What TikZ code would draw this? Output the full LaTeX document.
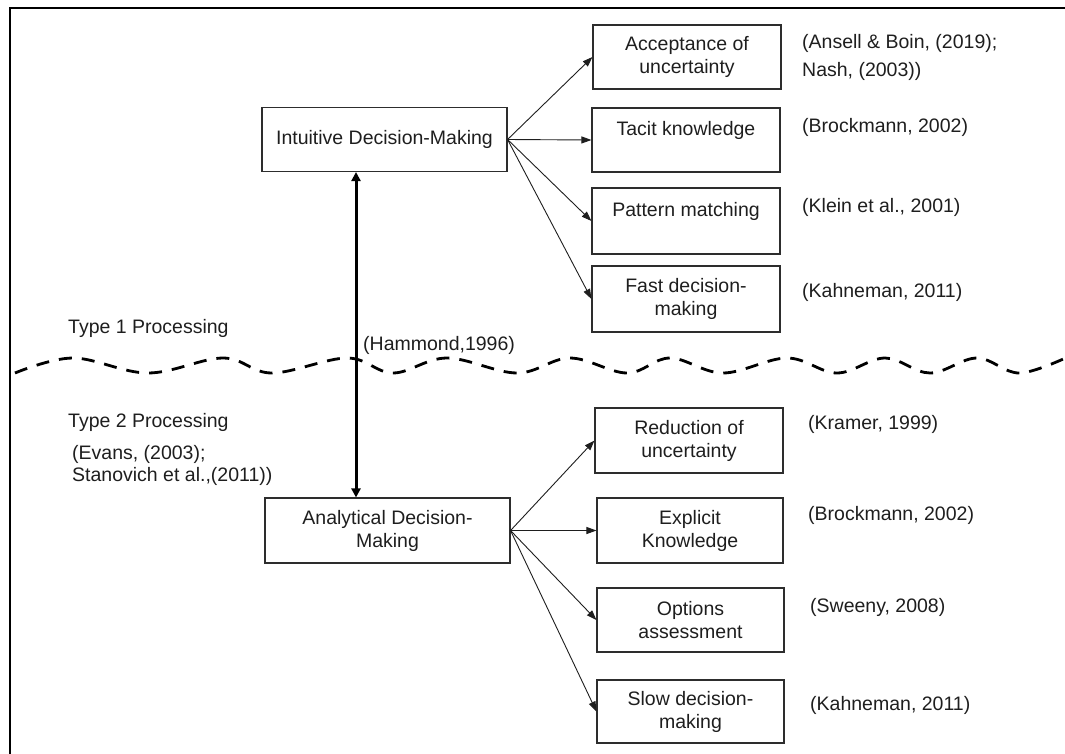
\documentclass[tikz,border=0pt]{standalone}
\usepackage{fontspec}
\setmainfont{Liberation Sans}
\usetikzlibrary{arrows.meta}
\definecolor{inkc}{RGB}{30,30,30}
\definecolor{framec}{RGB}{45,45,45}
\begin{document}
\begin{tikzpicture}[x=1pt,y=-1pt,
  txt/.style={text=inkc, font=\fontsize{19.5}{23}\selectfont, inner sep=0pt},
  box/.style={txt, draw=framec, line width=1.1pt, align=center,
              minimum width=188pt, minimum height=64pt},
  mainbox/.style={box, minimum width=245pt},
  cite/.style={txt, anchor=west, align=left},
  link/.style={draw=inkc, line width=0.9pt, -{Triangle[length=10pt,width=7pt]}},
  bothway/.style={draw=black, line width=3pt,
                  {Triangle[length=9pt,width=9pt]}-{Triangle[length=9pt,width=9pt]}},
  divider/.style={draw=black, line width=2.8pt, dash pattern=on 13pt off 10pt}
]
\useasboundingbox (0,0) rectangle (1065,753);
\clip (0,0) rectangle (1065,753);

% outer frame (runs past the page on the right and at the bottom)
\draw[line width=2.2pt] (10,8) rectangle (1090,780);

% the two modes of decision-making
\node[mainbox] (idm) at (384.5,139.5) {Intuitive Decision-Making};
\node[mainbox, minimum height=65pt] (adm) at (387.5,530.5) {Analytical Decision-\\Making};

% Type 1 characteristics
\node[box] (acc) at (687,57)  {Acceptance of\\uncertainty};
\node[box] (tac) at (686,140) {Tacit knowledge\\\mbox{}};
\node[box, minimum height=66pt] (pat) at (686,221) {Pattern matching\\\mbox{}};
\node[box, minimum height=66pt] (fst) at (686,299) {Fast decision-\\making};

% Type 2 characteristics
\node[box, minimum height=65pt] (red) at (689,440.5) {Reduction of\\uncertainty};
\node[box, minimum width=186pt, minimum height=65pt] (exp) at (690,530.5) {Explicit\\Knowledge};
\node[box, minimum width=187pt] (opt) at (690.5,620) {Options\\assessment};
\node[box, minimum width=187pt, minimum height=63pt] (slw) at (690.5,711.5) {Slow decision-\\making};

% references
\node[cite, font=\fontsize{19.5}{28.5}\selectfont] (c1) at (802,57.5) {(Ansell \& Boin, (2019);\\Nash, (2003))};
\node[cite] (c2) at (802,127) {(Brockmann, 2002)};
\node[cite] (c3) at (802,207) {(Klein et al., 2001)};
\node[cite] (c4) at (802,292) {(Kahneman, 2011)};
\node[cite] (c5) at (808,424) {(Kramer, 1999)};
\node[cite] (c6) at (808,515) {(Brockmann, 2002)};
\node[cite] (c7) at (810,607) {(Sweeny, 2008)};
\node[cite] (c8) at (810,705) {(Kahneman, 2011)};

% processing labels
\node[cite] (t1) at (68,328) {Type 1 Processing};
\node[cite] (t2) at (68,422) {Type 2 Processing};
\node[cite, font=\fontsize{19.5}{22}\selectfont] (ev) at (72,465) {(Evans, (2003);\\Stanovich et al.,(2011))};
\node[cite] (ham) at (363,345) {(Hammond,1996)};

% wavy boundary between the two processing types
\draw[divider] plot[smooth, tension=0.6] coordinates {
  (15,373) (73,358) (148,373) (223,358) (272,373) (347,358) (393,373)
  (447,358) (517,373) (570,358) (627,373) (670,358) (723,373) (787,358)
  (837,373) (885,358) (930,373) (977,358) (1020,373) (1072,355)};

% continuum between intuition and analysis
\coordinate (hx) at (356,0);
\draw[bothway] (idm.south -| hx) -- (adm.north -| hx);

% branches
\foreach \t in {acc,tac,pat,fst} \draw[link] (idm.east) -- (\t.west);
\foreach \t in {red,exp,opt,slw} \draw[link] (adm.east) -- (\t.west);
\end{tikzpicture}
\end{document}
